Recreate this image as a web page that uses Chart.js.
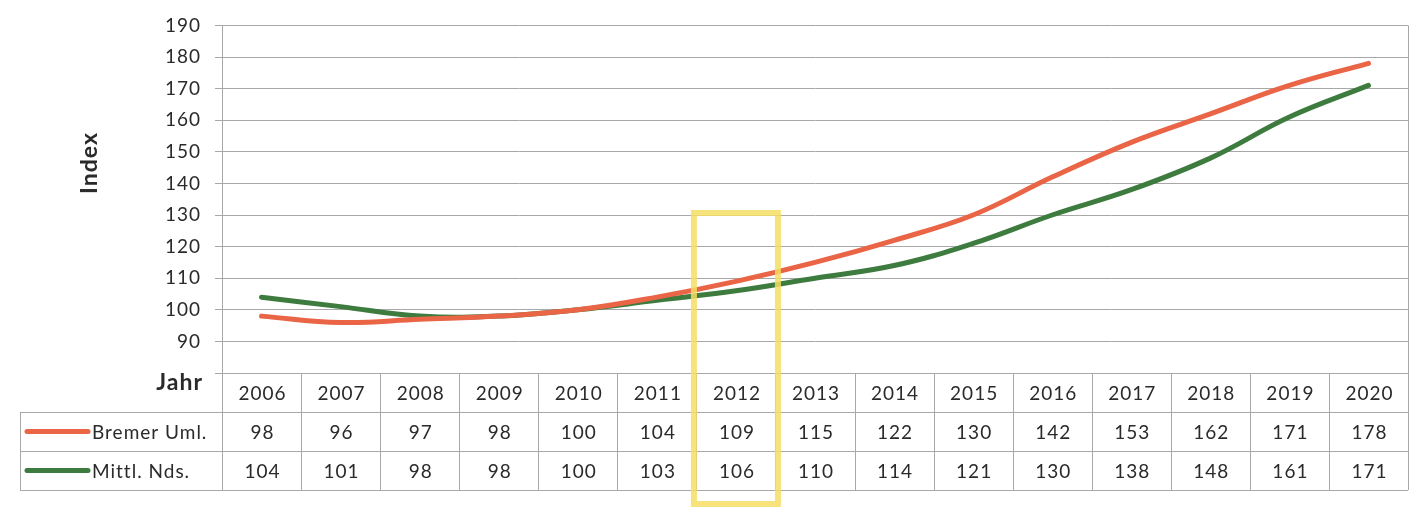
<!DOCTYPE html>
<html><head><meta charset="utf-8">
<script src="https://cdn.jsdelivr.net/npm/chart.js@4/dist/chart.umd.min.js"></script>
<style>html,body{margin:0;padding:0;background:#fff}#wrap{width:1416px;height:509px}</style>
</head><body><div id="wrap"><canvas id="c" width="1416" height="509"></canvas></div>
<script>
const years = ['2006','2007','2008','2009','2010','2011','2012','2013','2014','2015','2016','2017','2018','2019','2020'];
const bremer = [98,96,97,98,100,104,109,115,122,130,142,153,162,171,178];
const mittl = [104,101,98,98,100,103,106,110,114,121,130,138,148,161,171];
const seriesNames = ['Bremer Uml.','Mittl. Nds.'];
const seriesColors = ['#ea6446','#3e7b3e'];
const highlightYear = '2012';
const FONT = 'Lato, "Open Sans", sans-serif';
const GRID = '#a8a8a8';
const TXT = '#2a2a2a';

const spacingPlugin = {
  id: 'spacing',
  beforeDraw(chart) { chart.ctx.letterSpacing = '1px'; }
};

const tablePlugin = {
  id: 'tablePlugin',
  afterDraw(chart) {
    const ctx = chart.ctx, ca = chart.chartArea, xs = chart.scales.x;
    const rowTop = ca.bottom, rowH = 39;
    const colW = (ca.right - ca.left) / years.length;
    ctx.save();
    ctx.letterSpacing = '1px';
    ctx.strokeStyle = GRID; ctx.lineWidth = 1;
    ctx.beginPath();
    ctx.moveTo(ca.right + 0.5, ca.top); ctx.lineTo(ca.right + 0.5, rowTop + 3 * rowH);
    ctx.moveTo(ca.left + 0.5, ca.top); ctx.lineTo(ca.left + 0.5, rowTop + 3 * rowH);
    for (let r = 0; r <= 3; r++) {
      const y = Math.round(rowTop + r * rowH) + 0.5;
      const x0 = r === 0 ? ca.left - 7 : 20;
      ctx.moveTo(x0, y); ctx.lineTo(ca.right, y);
    }
    ctx.moveTo(20.5, rowTop + rowH); ctx.lineTo(20.5, rowTop + 3 * rowH);
    years.forEach((y, i) => {
      const cx = xs.getPixelForValue(i);
      const xl = Math.round(cx + colW / 2) + 0.5;
      ctx.moveTo(xl, rowTop); ctx.lineTo(xl, rowTop + 3 * rowH);
    });
    ctx.stroke();
    ctx.fillStyle = TXT;
    ctx.font = '19px ' + FONT;
    ctx.textAlign = 'center'; ctx.textBaseline = 'middle';
    const rows = [years, bremer, mittl];
    rows.forEach((arr, r) => {
      arr.forEach((v, i) => {
        ctx.fillText(String(v), xs.getPixelForValue(i) + 1, rowTop + r * rowH + rowH / 2 + 1);
      });
    });
    seriesNames.forEach((n, k) => {
      const yc = rowTop + (k + 1) * rowH + rowH / 2;
      ctx.strokeStyle = seriesColors[k]; ctx.lineWidth = 5; ctx.lineCap = 'round';
      ctx.beginPath(); ctx.moveTo(27, yc); ctx.lineTo(88, yc); ctx.stroke();
      ctx.fillStyle = TXT; ctx.textAlign = 'left';
      ctx.fillText(n, 92, yc + 1);
    });
    ctx.font = 'bold 23px ' + FONT; ctx.textAlign = 'right';
    ctx.fillText('Jahr', 203, rowTop + 10);
    ctx.save();
    ctx.translate(90, 163); ctx.rotate(-Math.PI / 2);
    ctx.textAlign = 'center'; ctx.fillText('Index', 0, 0);
    ctx.restore();
    const hi = years.indexOf(highlightYear);
    const hx = xs.getPixelForValue(hi);
    ctx.strokeStyle = 'rgba(245,222,100,0.85)'; ctx.lineWidth = 6;
    ctx.strokeRect(hx - 42, 213, 84, 291);
    ctx.restore();
  }
};

new Chart(document.getElementById('c'), {
  type: 'line',
  data: {
    labels: years,
    datasets: [
      { label: seriesNames[0], data: bremer, borderColor: seriesColors[0], borderWidth: 5, pointRadius: 0, tension: 0.4, fill: false, borderCapStyle: 'round' },
      { label: seriesNames[1], data: mittl, borderColor: seriesColors[1], borderWidth: 5, pointRadius: 0, tension: 0.4, fill: false, borderCapStyle: 'round' }
    ]
  },
  options: {
    responsive: false, animation: false,
    layout: { padding: { left: 0, top: 25, right: 8, bottom: 136 } },
    plugins: { legend: { display: false }, tooltip: { enabled: false } },
    scales: {
      x: { display: false, offset: true },
      y: {
        min: 80, max: 190,
        afterFit(s) { s.width = 222; },
        ticks: { stepSize: 10, color: TXT, font: { size: 19, family: FONT }, padding: 14,
          callback: v => v === 80 ? '' : v },
        grid: { color: GRID, tickLength: 7, lineWidth: 1 },
        border: { color: GRID }
      }
    }
  },
  plugins: [spacingPlugin, tablePlugin]
});
</script></body></html>
